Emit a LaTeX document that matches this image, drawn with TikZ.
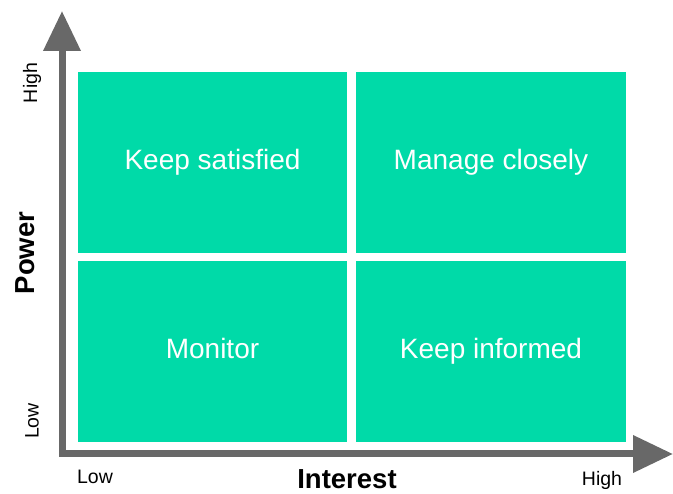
\documentclass[tikz,border=0pt]{standalone}
\usepackage{fontspec}
\setmainfont{Liberation Sans}
\usepackage{tikz}
\usetikzlibrary{arrows.meta}

\definecolor{cellgreen}{RGB}{0,218,168}
\definecolor{axisgray}{RGB}{104,104,104}

\tikzset{
  cell/.style = {fill=cellgreen, text=white, inner sep=0pt,
                 minimum height=181pt, text height=20pt, text depth=6.8pt,
                 font=\fontsize{28}{32}\selectfont},
  axisline/.style = {draw=axisgray, line width=7pt, line join=miter,
                     {Triangle[length=40pt,width=36pt]}-{Triangle[length=40pt,width=36pt]}},
  ticklabel/.style = {font=\fontsize{19.5}{22}\selectfont, text=black},
  axistitle/.style = {font=\bfseries\fontsize{27.5}{32}\selectfont, text=black}
}

\begin{document}
\begin{tikzpicture}[x=1pt, y=-1pt]
            \useasboundingbox (0,0) rectangle (673,494);
            % Cuadrantes
            \node[cell, minimum width=269pt] (satisfied) at (212.5,162.5) {Keep satisfied};
            \node[cell, minimum width=270pt] (closely)   at (491,162.5)   {Manage closely};
            \node[cell, minimum width=269pt] (monitor)   at (212.5,351.5) {Monitor};
            \node[cell, minimum width=270pt] (informed)  at (491,351.5)   {Keep informed};
            % Ejes
            \coordinate (ytip) at (62,11);
            \coordinate (origin) at (62,454);
            \coordinate (xtip) at (673,454);
            \draw[axisline] (ytip) -- (origin) -- (xtip);
            % Etiquetas
            \node[ticklabel, rotate=90] (yhigh) at (32,83) {High};
            \node[ticklabel, rotate=90] (ylow)  at (32,421) {Low};
            \node[ticklabel] (xlow)  at (95,477) {Low};
            \node[ticklabel] (xhigh) at (602,480) {High};
            \node[axistitle, rotate=90] (power) at (25,253) {Power};
            \node[axistitle, anchor=base, inner sep=0pt] (interest) at (347,489) {Interest};
       \end{tikzpicture}
\end{document}
